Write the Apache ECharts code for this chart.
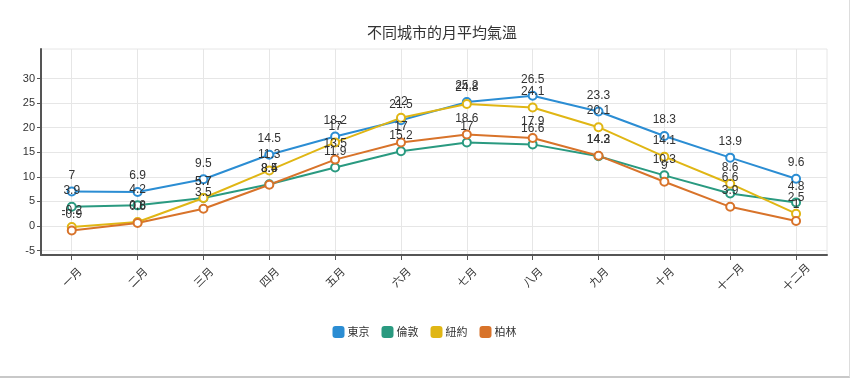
<!DOCTYPE html>
<html>
<head>
<meta charset="utf-8">
<script src="https://cdn.jsdelivr.net/npm/echarts@6/dist/echarts.min.js"></script>
<style>
html,body{margin:0;padding:0;background:#fff;}
#c{width:849px;height:376px;border-right:1px solid #ddd;border-bottom:2px solid #c8c8c8;}
</style>
</head>
<body>
<div id="c"></div>
<script>
var months = ['一月','二月','三月','四月','五月','六月','七月','八月','九月','十月','十一月','十二月'];
var seriesNames = ['東京','倫敦','紐約','柏林'];
var tokyo  = [7.0, 6.9, 9.5, 14.5, 18.2, 21.5, 25.2, 26.5, 23.3, 18.3, 13.9, 9.6];
var london = [3.9, 4.2, 5.7, 8.5, 11.9, 15.2, 17.0, 16.6, 14.2, 10.3, 6.6, 4.8];
var newyork= [-0.2, 0.8, 5.7, 11.3, 17.0, 22.0, 24.8, 24.1, 20.1, 14.1, 8.6, 2.5];
var berlin = [-0.9, 0.6, 3.5, 8.4, 13.5, 17.0, 18.6, 17.9, 14.3, 9.0, 3.9, 1.0];
var yTicks = [-5, 0, 5, 10, 15, 20, 25, 30];
var colors = ['#2b8dd3', '#2a9a80', '#e0b614', '#d8732a'];

var allData = [tokyo, london, newyork, berlin];
var idx = months.map(function(m, i){ return i; });

var chart = echarts.init(document.getElementById('c'));
chart.setOption({
  animation: false,
  color: colors,
  title: {
    text: '不同城市的月平均氣溫',
    left: 362, top: 20,
    textStyle: {fontSize: 15, fontWeight: 'normal', color: '#333', fontFamily: 'Noto Sans CJK TC'}
  },
  legend: {
    bottom: 33, left: 'center',
    icon: 'roundRect', itemWidth: 12, itemHeight: 12, itemGap: 12,
    textStyle: {fontSize: 11, color: '#333', fontFamily: 'Noto Sans CJK TC', padding: [0, 0, 0, -2]},
    data: seriesNames
  },
  grid: {
    left: 41, right: 22, top: 49, bottom: 121,
    show: true, borderColor: '#e6e6e6', borderWidth: 1
  },
  xAxis: {
    type: 'value',
    min: -0.467, max: 11.47,
    axisLine: {show: true, onZero: false, lineStyle: {color: '#555', width: 2}},
    axisTick: {show: true, customValues: idx, length: 5, lineStyle: {color: '#555'}},
    axisLabel: {
      customValues: idx, rotate: 45, color: '#333', fontSize: 11, margin: 22,
      align: 'center', verticalAlign: 'middle',
      fontFamily: 'Noto Sans CJK TC',
      formatter: function(v){ return months[Math.round(v)]; }
    },
    splitLine: {show: true, lineStyle: {color: '#e6e6e6'}}
  },
  yAxis: {
    type: 'value',
    min: -5.9, max: 36,
    axisLine: {show: true, onZero: false, lineStyle: {color: '#555', width: 2}},
    axisTick: {show: true, customValues: yTicks, length: 4, lineStyle: {color: '#555'}},
    axisLabel: {customValues: yTicks, color: '#333', fontSize: 11, margin: 6},
    splitLine: {show: true, lineStyle: {color: '#e6e6e6'}}
  },
  series: allData.map(function(d, k){
    return {
      name: seriesNames[k],
      type: 'line',
      data: d.map(function(v, i){ return [i, v]; }),
      symbol: 'emptyCircle', symbolSize: 8,
      lineStyle: {width: 2},
      itemStyle: {borderWidth: 2},
      label: {
        show: true, position: 'top', distance: 5, color: '#333', fontSize: 12,
        formatter: function(p){ return String(p.value[1]); }
      }
    };
  })
});
</script>
</body>
</html>
